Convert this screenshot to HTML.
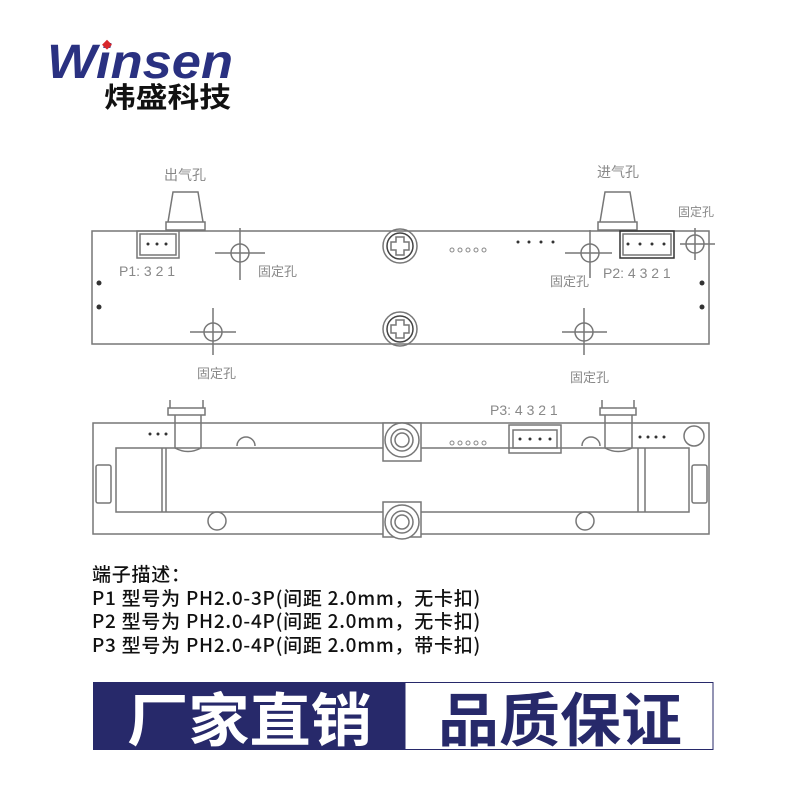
<!DOCTYPE html>
<html><head><meta charset="utf-8"><style>
body{margin:0;width:800px;height:800px;background:#fff;overflow:hidden;position:relative;font-family:"Liberation Sans","Noto Sans CJK SC",sans-serif}
.t{position:absolute;left:92px;font-family:"Noto Sans CJK SC",sans-serif;font-size:19px;font-weight:500;color:#111;line-height:23.5px;top:562px;white-space:nowrap;letter-spacing:0.75px}
</style></head><body>
<svg width="800" height="800" style="position:absolute;left:0;top:0" xmlns="http://www.w3.org/2000/svg">
<text x="47" y="78" font-family="Liberation Sans" font-weight="bold" font-style="italic" font-size="48" fill="#2a3181" textLength="186" lengthAdjust="spacingAndGlyphs">Winsen</text>
<rect x="104" y="41" width="7" height="7" fill="#d8262b" transform="rotate(45 107 44)"/>
<text x="104" y="107" font-family="Noto Sans CJK SC,sans-serif" font-weight="bold" font-size="28" fill="#111" textLength="127" lengthAdjust="spacingAndGlyphs">炜盛科技</text>

<g stroke="#777" fill="none" stroke-width="1.5">
<rect x="92" y="231" width="617" height="113"/>
<path d="M168 222 L173 192 L198 192 L203 222 Z M166 222 H205 V230 H166 Z M171 230 V231 M198 230 V231"/>
<path d="M600 222 L605 192 L630 192 L635 222 Z M598 222 H637 V230 H598 Z"/>
<rect x="137" y="231" width="42" height="27"/><rect x="140" y="234" width="36" height="21"/>
<rect x="620" y="231" width="54" height="27" stroke="#333"/><rect x="623" y="234" width="48" height="21"/>
<circle cx="240" cy="253" r="9"/><path d="M215 253H265M240 228V280"/>
<circle cx="213" cy="332" r="9"/><path d="M190 332H236M213 308V355"/>
<circle cx="590" cy="253" r="9"/><path d="M565 253H612M590 230V278"/>
<circle cx="695" cy="244" r="9"/><path d="M680 244H715M695 228V260"/>
<circle cx="584" cy="332" r="9"/><path d="M562 332H607M584 308V355"/>
<circle cx="400" cy="246" r="17"/><circle cx="400" cy="246" r="13" stroke="#444"/>
<path d="M396 237h8v5h5v8h-5v5h-8v-5h-5v-8h5z"/>
<circle cx="400" cy="329" r="17"/><circle cx="400" cy="329" r="13" stroke="#444"/>
<path d="M396 320h8v5h5v8h-5v5h-8v-5h-5v-8h5z"/>

<rect x="93" y="423" width="616" height="111"/>
<path d="M170 400V408M203 400V408M168 408H205V415H168Z M175 415V450 M201 415V450"/>
<path d="M602 400V408M634 400V408M600 408H636V415H600Z M605 415V450 M632 415V450"/>
<rect x="116" y="448" width="573" height="64" fill="#fff"/>
<path d="M162 448V512M166 448V512M638 448V512M645 448V512"/>
<path d="M175 448Q188 455 201 448 M605 448Q618 455 632 448"/>
<rect x="96" y="465" width="15" height="38" rx="2"/><rect x="692" y="465" width="15" height="38" rx="2"/>
<rect x="383" y="423" width="38" height="38" fill="#fff"/>
<circle cx="402" cy="440" r="17" fill="#fff"/><circle cx="402" cy="440" r="11"/><circle cx="402" cy="440" r="7"/>
<rect x="383" y="502" width="38" height="35" fill="#fff"/>
<circle cx="402" cy="522" r="17" fill="#fff"/><circle cx="402" cy="522" r="11"/><circle cx="402" cy="522" r="7"/>
<path d="M237 446a9 9 0 0 1 18 0 M582 446a9 9 0 0 1 18 0"/>
<circle cx="217" cy="521" r="9"/><circle cx="585" cy="521" r="9"/><circle cx="694" cy="436" r="10"/>
<rect x="509" y="425" width="52" height="28"/><rect x="513" y="430" width="44" height="18"/>
</g>
<g fill="#333">
<circle cx="99" cy="283" r="2.5"/><circle cx="99" cy="307" r="2.5"/>
<circle cx="702" cy="283" r="2.5"/><circle cx="702" cy="307" r="2.5"/>
<circle cx="148" cy="244" r="1.5"/><circle cx="157" cy="244" r="1.5"/><circle cx="166" cy="244" r="1.5"/>
<circle cx="628" cy="244" r="1.5"/><circle cx="640" cy="244" r="1.5"/><circle cx="652" cy="244" r="1.5"/><circle cx="664" cy="244" r="1.5"/>
<circle cx="518" cy="242" r="1.5"/><circle cx="529" cy="242" r="1.5"/><circle cx="541" cy="242" r="1.5"/><circle cx="553" cy="242" r="1.5"/>
<circle cx="150" cy="434" r="1.5"/><circle cx="158" cy="434" r="1.5"/><circle cx="166" cy="434" r="1.5"/>
<circle cx="640" cy="437" r="1.5"/><circle cx="648" cy="437" r="1.5"/><circle cx="656" cy="437" r="1.5"/><circle cx="664" cy="437" r="1.5"/>
<circle cx="520" cy="439" r="1.5"/><circle cx="530" cy="439" r="1.5"/><circle cx="540" cy="439" r="1.5"/><circle cx="550" cy="439" r="1.5"/>
</g>
<g fill="none" stroke="#888"><circle cx="452" cy="250" r="2"/><circle cx="460" cy="250" r="2"/><circle cx="468" cy="250" r="2"/><circle cx="476" cy="250" r="2"/><circle cx="484" cy="250" r="2"/>
<circle cx="452" cy="443" r="2"/><circle cx="460" cy="443" r="2"/><circle cx="468" cy="443" r="2"/><circle cx="476" cy="443" r="2"/><circle cx="484" cy="443" r="2"/></g>
<g font-family="Noto Sans CJK SC,sans-serif" font-size="14" fill="#888">
<text x="164" y="180">出气孔</text><text x="597" y="177">进气孔</text>
<text x="678" y="216" font-size="12">固定孔</text>
<text x="258" y="276" font-size="13">固定孔</text><text x="550" y="286" font-size="13">固定孔</text>
<text x="197" y="378" font-size="13">固定孔</text><text x="570" y="382" font-size="13">固定孔</text>
<text x="119" y="276" font-family="Liberation Sans" font-size="14">P1: 3 2 1</text>
<text x="603" y="278" font-family="Liberation Sans" font-size="14">P2: 4 3 2 1</text>
<text x="490" y="415" font-family="Liberation Sans" font-size="14">P3: 4 3 2 1</text>
</g>
<rect x="93" y="682" width="312" height="68" fill="#27296a"/>
<rect x="405" y="682.5" width="308" height="67" fill="#fff" stroke="#27296a"/>
<text x="127" y="741" font-family="Noto Sans CJK SC,sans-serif" font-weight="bold" font-size="58" fill="#fff" textLength="245" lengthAdjust="spacingAndGlyphs">厂家直销</text>
<text x="438" y="741" font-family="Noto Sans CJK SC,sans-serif" font-weight="bold" font-size="58" fill="#27296a" textLength="244" lengthAdjust="spacingAndGlyphs">品质保证</text>
</svg>
<div class="t">端子描述：<br>P1 型号为 PH2.0-3P(间距 2.0mm，无卡扣)<br>P2 型号为 PH2.0-4P(间距 2.0mm，无卡扣)<br>P3 型号为 PH2.0-4P(间距 2.0mm，带卡扣)</div>
</body></html>
